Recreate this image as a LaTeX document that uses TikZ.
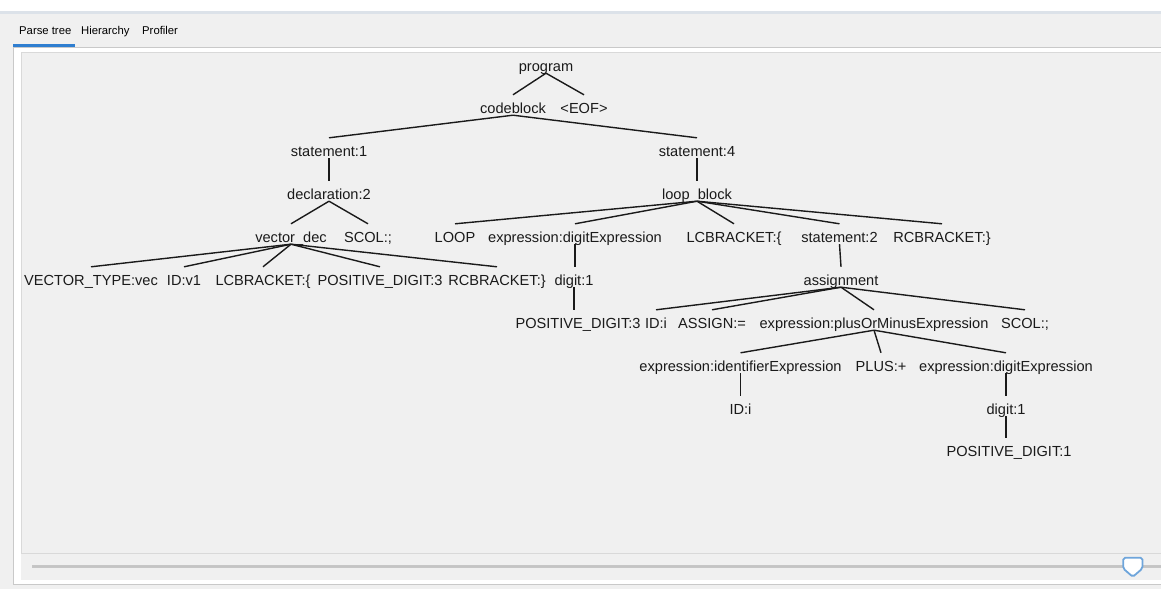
\documentclass[tikz,border=0pt]{standalone}
\usepackage{fontspec}
\setmainfont{Liberation Sans}
\definecolor{panelbg}{HTML}{F0F0F0}
\definecolor{topline}{HTML}{DCE2E9}
\definecolor{frameline}{HTML}{C9C9C9}
\definecolor{canvasline}{HTML}{D9D9D9}
\definecolor{tabblue}{HTML}{2F7ED0}
\definecolor{trackgrey}{HTML}{C4C4C4}
\definecolor{thumbblue}{HTML}{6EA5DB}
\definecolor{inkgrey}{HTML}{1A1A1A}
\tikzset{
  t/.style={anchor=base, inner sep=0pt, text height=18pt, text depth=2pt,
            font=\fontsize{14.6}{16}\selectfont, text=inkgrey},
  tab/.style={anchor=base west, inner sep=0pt, font=\fontsize{11.3}{13}\selectfont, text=black},
  e/.style={draw=inkgrey, line width=1.4pt}
}
\begin{document}
\begin{tikzpicture}[x=1pt, y=1pt]
\clip (0,0) rectangle (1161,-589);
% window chrome
\fill[panelbg] (0,0) rectangle (1161,-589);
\fill[white] (0,0) rectangle (1161,-11);
\fill[topline] (0,-11) rectangle (1161,-14);
\node[tab] (tabparse) at (19,-34) {Parse tree};
\node[tab] (tabhier) at (81,-34) {Hierarchy};
\node[tab] (tabprof) at (142,-34) {Profiler};
\draw[frameline, fill=white, line width=1pt] (13.5,-47.5) rectangle (1180,-584);
\fill[tabblue] (13,-43.5) rectangle (75,-46.8);
\draw[canvasline, fill=panelbg, line width=1.3pt] (21.8,-52.6) rectangle (1180,-553.4);
\fill[panelbg] (21,-554.2) rectangle (1180,-579.5);
% zoom slider
\draw[fill=trackgrey, draw=gray!45] (32,-565) rectangle (1180,-567.6);
\draw[thumbblue, fill=white, line width=1.8pt, rounded corners=1.8pt]
  (1123.2,-557.8) -- (1142.4,-557.8) -- (1142.4,-568.5) -- (1132.8,-576.8) -- (1123.2,-568.5) -- cycle;

% parse tree nodes
\node[t] (program) at (546,-71) {program};
\node[t] (codeblock) at (513,-113) {codeblock};
\node[t] (eof) at (584,-113) {<EOF>};
\node[t] (st1) at (329,-156) {statement:1};
\node[t] (st4) at (697,-156) {statement:4};
\node[t] (decl) at (329,-199) {declaration:2};
\node[t] (loopb) at (697,-199) {loop\_block};
\node[t] (vdec) at (291,-242) {vector\_dec};
\node[t] (scolA) at (368,-242) {SCOL:;};
\node[t] (loopkw) at (455,-242) {LOOP};
\node[t] (exprD) at (575,-242) {expression:digitExpression};
\node[t] (lcb) at (734,-242) {LCBRACKET:\{};
\node[t] (st2) at (839.5,-242) {statement:2};
\node[t] (rcb) at (942,-242) {RCBRACKET:\}};
\node[t] (vtype) at (91,-285) {VECTOR\_TYPE:vec};
\node[t] (idv) at (184,-285) {ID:v1};
\node[t] (lcbA) at (263,-285) {LCBRACKET:\{};
\node[t] (pdA) at (380,-285) {POSITIVE\_DIGIT:3};
\node[t] (rcbA) at (497,-285) {RCBRACKET:\}};
\node[t] (digA) at (574,-285) {digit:1};
\node[t] (assign) at (841,-285) {assignment};
\node[t] (pdB) at (578,-328) {POSITIVE\_DIGIT:3};
\node[t] (idi) at (656,-328) {ID:i};
\node[t] (asg) at (712,-328) {ASSIGN:=};
\node[t] (exprPM) at (874,-328) {expression:plusOrMinusExpression};
\node[t] (scolB) at (1025,-328) {SCOL:;};
\node[t] (exprId) at (740.5,-371) {expression:identifierExpression};
\node[t] (plus) at (881,-371) {PLUS:+};
\node[t] (exprD2) at (1006,-371) {expression:digitExpression};
\node[t] (idi2) at (740.5,-414) {ID:i};
\node[t] (digB) at (1006,-414) {digit:1};
\node[t] (pdC) at (1009,-456) {POSITIVE\_DIGIT:1};

% parse tree edges
\draw[e] (program.south) -- (codeblock.north);
\draw[e] (program.south) -- (eof.north);
\draw[e] (codeblock.south) -- (st1.north);
\draw[e] (codeblock.south) -- (st4.north);
\draw[e] (st1.south) -- (decl.north);
\draw[e] (st4.south) -- (loopb.north);
\draw[e] (decl.south) -- (vdec.north);
\draw[e] (decl.south) -- (scolA.north);
\draw[e] (loopb.south) -- (loopkw.north);
\draw[e] (loopb.south) -- (exprD.north);
\draw[e] (loopb.south) -- (lcb.north);
\draw[e] (loopb.south) -- (st2.north);
\draw[e] (loopb.south) -- (rcb.north);
\draw[e] (vdec.south) -- (vtype.north);
\draw[e] (vdec.south) -- (idv.north);
\draw[e] (vdec.south) -- (lcbA.north);
\draw[e] (vdec.south) -- (pdA.north);
\draw[e] (vdec.south) -- (rcbA.north);
\draw[e] (exprD.south) -- (exprD.south |- digA.north);
\draw[e] (st2.south) -- (assign.north);
\draw[e] (digA.south) -- (digA.south |- pdB.north);
\draw[e] (assign.south) -- (idi.north);
\draw[e] (assign.south) -- (asg.north);
\draw[e] (assign.south) -- (exprPM.north);
\draw[e] (assign.south) -- (scolB.north);
\draw[e] (exprPM.south) -- (exprId.north);
\draw[e] (exprPM.south) -- (plus.north);
\draw[e] (exprPM.south) -- (exprD2.north);
\draw[e] (exprId.south) -- (idi2.north);
\draw[e] (exprD2.south) -- (digB.north);
\draw[e] (digB.south) -- (digB.south |- pdC.north);
\end{tikzpicture}
\end{document}
